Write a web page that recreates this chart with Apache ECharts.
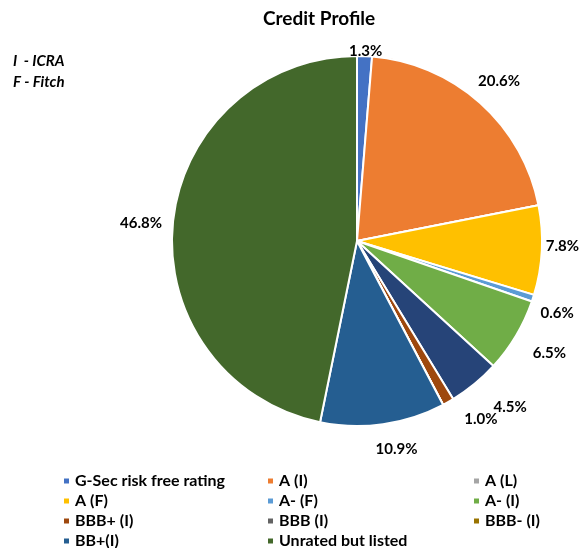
<!DOCTYPE html>
<html>
<head>
<meta charset="utf-8">
<script src="https://cdn.jsdelivr.net/npm/echarts@6/dist/echarts.min.js"></script>
<style>
  html, body { margin: 0; padding: 0; background: #fff; }
  #chart { width: 580px; height: 548px; }
</style>
</head>
<body>
<div id="chart"></div>
<script>
// rating buckets, clockwise from 12 o'clock
const ratings = ['G-Sec risk free rating', 'A (I)', 'A (L)', 'A (F)', 'A- (F)', 'A- (I)',
  'Others', 'BBB+ (I)', 'BBB (I)', 'BBB- (I)', 'BB+(I)', 'Unrated but listed'];
const shares = [1.3, 20.6, 0, 7.8, 0.6, 6.5, 4.5, 1.0, 0, 0, 10.9, 46.8];
const colors = ['#4472C4', '#ED7D31', '#A5A5A5', '#FFC000', '#5B9BD5', '#70AD47',
  '#264478', '#9E480E', '#636363', '#997300', '#255E91', '#43682B'];

// legend columns (the "Others" slice has no legend entry)
const legendCol1 = ['G-Sec risk free rating', 'A (F)', 'BBB+ (I)', 'BB+(I)'];
const legendCol2 = ['A (I)', 'A- (F)', 'BBB (I)', 'Unrated but listed'];
const legendCol3 = ['A (L)', 'A- (I)', 'BBB- (I)'];

// small label nudges [dx, dy] so labels sit where the original "best fit" put them
const labelNudge = [[-21, 5], [-9, -14], [0, 0], [-6, -5], [-2, 12], [8, 12],
  [12, 16], [10, 8], [0, 0], [0, 0], [-14, 15], [4, 2]];

const font = 'Lato, "Open Sans", sans-serif';

const chart = echarts.init(document.getElementById('chart'), null, {renderer: 'canvas'});

const legendBase = {
  orient: 'vertical',
  top: 473,
  height: 90,
  padding: 0,
  icon: 'rect',
  itemWidth: 7,
  itemHeight: 7,
  itemGap: 4,
  selectedMode: false,
  textStyle: {fontFamily: font, fontSize: 16, fontWeight: 'bold', color: '#000', lineHeight: 16}
};

chart.setOption({
  color: colors,
  animation: false,
  title: [
    {
      text: 'Credit Profile',
      left: 258,
      top: 4,
      textStyle: {fontFamily: font, fontSize: 19, fontWeight: 'bold', color: '#000'}
    },
    {
      text: 'I  - ICRA\nF - Fitch',
      left: 8,
      top: 46,
      textStyle: {fontFamily: font, fontSize: 15, fontWeight: 'bold', fontStyle: 'italic', color: '#000', lineHeight: 21}
    }
  ],
  legend: [
    Object.assign({}, legendBase, {left: 62, data: legendCol1}),
    Object.assign({}, legendBase, {left: 266, data: legendCol2}),
    Object.assign({}, legendBase, {left: 472, data: legendCol3})
  ],
  series: [{
    type: 'pie',
    center: [357, 241],
    radius: 185,
    startAngle: 90,
    clockwise: true,
    avoidLabelOverlap: true,
    itemStyle: {borderColor: '#fff', borderWidth: 2},
    label: {
      show: true,
      position: 'outside',
      overflow: 'none',
      fontFamily: font,
      fontSize: 15,
      fontWeight: 'bold',
      color: '#000',
      formatter: p => p.value > 0 ? p.value.toFixed(1) + '%' : ''
    },
    labelLine: {show: false, length: 10, length2: 0},
    labelLayout: p => ({dx: labelNudge[p.dataIndex][0], dy: labelNudge[p.dataIndex][1]}),
    emphasis: {disabled: true},
    data: ratings.map((name, i) => ({name: name, value: shares[i]}))
  }]
});

window.addEventListener('resize', () => chart.resize());
</script>
</body>
</html>
